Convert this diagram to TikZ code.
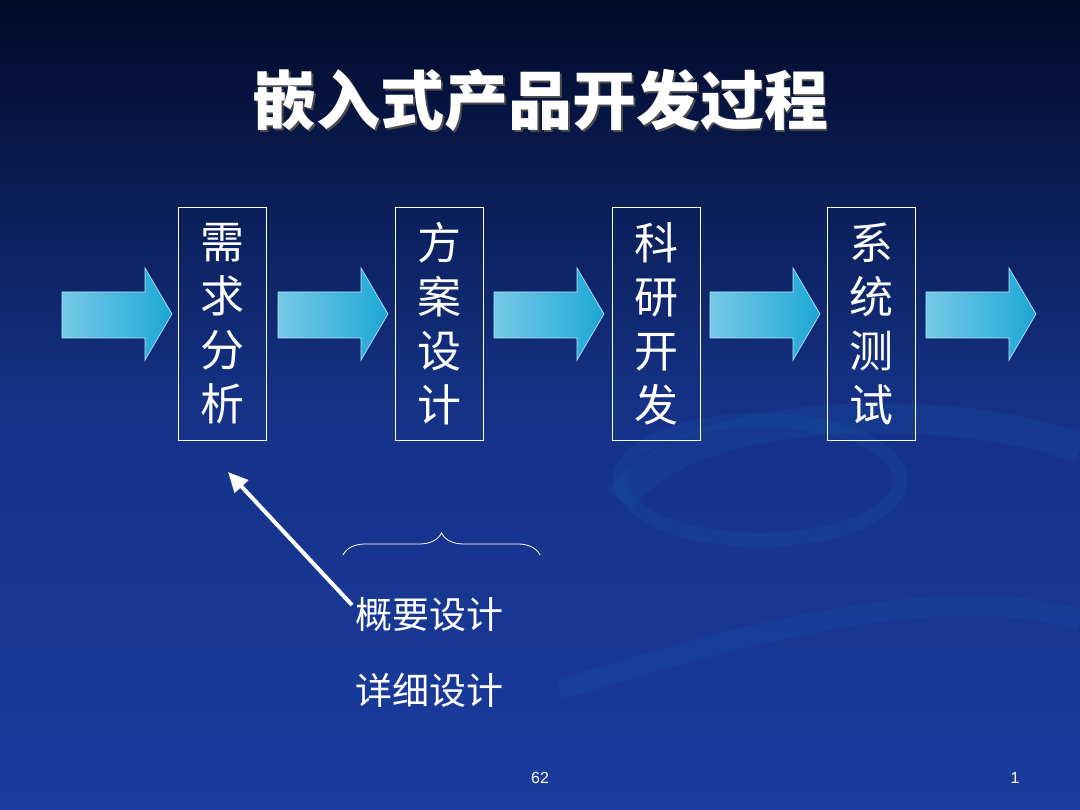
\documentclass[tikz,border=0pt]{standalone}
\usepackage{fontspec}
\newfontfamily\cjk{Noto Sans CJK SC}
\setsansfont{Liberation Sans}
\usetikzlibrary{arrows.meta,decorations.pathreplacing}
\definecolor{bgtop}{HTML}{000A28}
\definecolor{bgbot}{HTML}{1A3C9E}
\definecolor{arrcyan}{HTML}{1CA6D6}
\begin{document}
\begin{tikzpicture}[x=1pt,y=1pt,
  stepbox/.style={draw=white,line width=0.8pt,minimum width=88pt,minimum height=233pt,inner sep=0pt,text=white,font=\cjk\fontsize{44}{54}\selectfont,align=center},
  blk/.style={draw=white!70!cyan,line width=0.7pt,left color=arrcyan!60!white,right color=arrcyan},
  lbl/.style={text=white,font=\cjk\fontsize{37}{42}\selectfont}]
\useasboundingbox (0,0) rectangle (1080,810);
\shade[top color=bgtop,bottom color=bgbot,middle color=bgbot!80!bgtop] (0,0) rectangle (1080,810);
\begin{scope}[opacity=0.12]
\draw[line width=30pt,color=cyan!50!blue] (620,310) .. controls (700,420) and (1000,400) .. (1080,360);
\draw[line width=20pt,color=cyan!50!blue] (560,120) .. controls (750,180) and (950,230) .. (1080,190);
\draw[line width=14pt,color=cyan!50!blue] (760,330) ellipse (140pt and 60pt);
\end{scope}
\node[text=black!70,font=\cjk\bfseries\fontsize{64}{70}\selectfont] at (542,708) {嵌入式产品开发过程};
\node (title) [text=white,font=\cjk\bfseries\fontsize{64}{70}\selectfont] at (540,710) {嵌入式产品开发过程};
\node[stepbox] (s1) at (222.5,486.5) {需\\求\\分\\析};
\node[stepbox] (s2) at (439.5,486.5) {方\\案\\设\\计};
\node[stepbox] (s3) at (656,486.5) {科\\研\\开\\发};
\node[stepbox] (s4) at (871.5,486.5) {系\\统\\测\\试};
\foreach \x in {62,278,494,710,926}{
  \draw[blk] (\x,472) -- (\x+83,472) -- (\x+83,450) -- (\x+110,496) -- (\x+83,542) -- (\x+83,518) -- (\x,518) -- cycle;
}
\node[lbl,anchor=west] (t1) at (352,195) {概要设计};
\node[lbl,anchor=west] (t2) at (352,120) {详细设计};
\coordinate (p1) at (352,205);
\coordinate (p2) at (228,338);
\draw[white,line width=4pt,-{Triangle[length=20pt,width=18pt]}] (p1) -- (p2);
\coordinate (b1) at (343,255);
\coordinate (b2) at (540,255);
\draw[white,line width=0.8pt,decorate,decoration={brace,amplitude=22pt}] (b1) -- (b2);
\node[text=white,font=\sffamily\fontsize{16}{18}\selectfont] (pg) at (540,32) {62};
\node[text=white,font=\sffamily\fontsize{16}{18}\selectfont] (num) at (1015,32) {1};
\end{tikzpicture}
\end{document}
